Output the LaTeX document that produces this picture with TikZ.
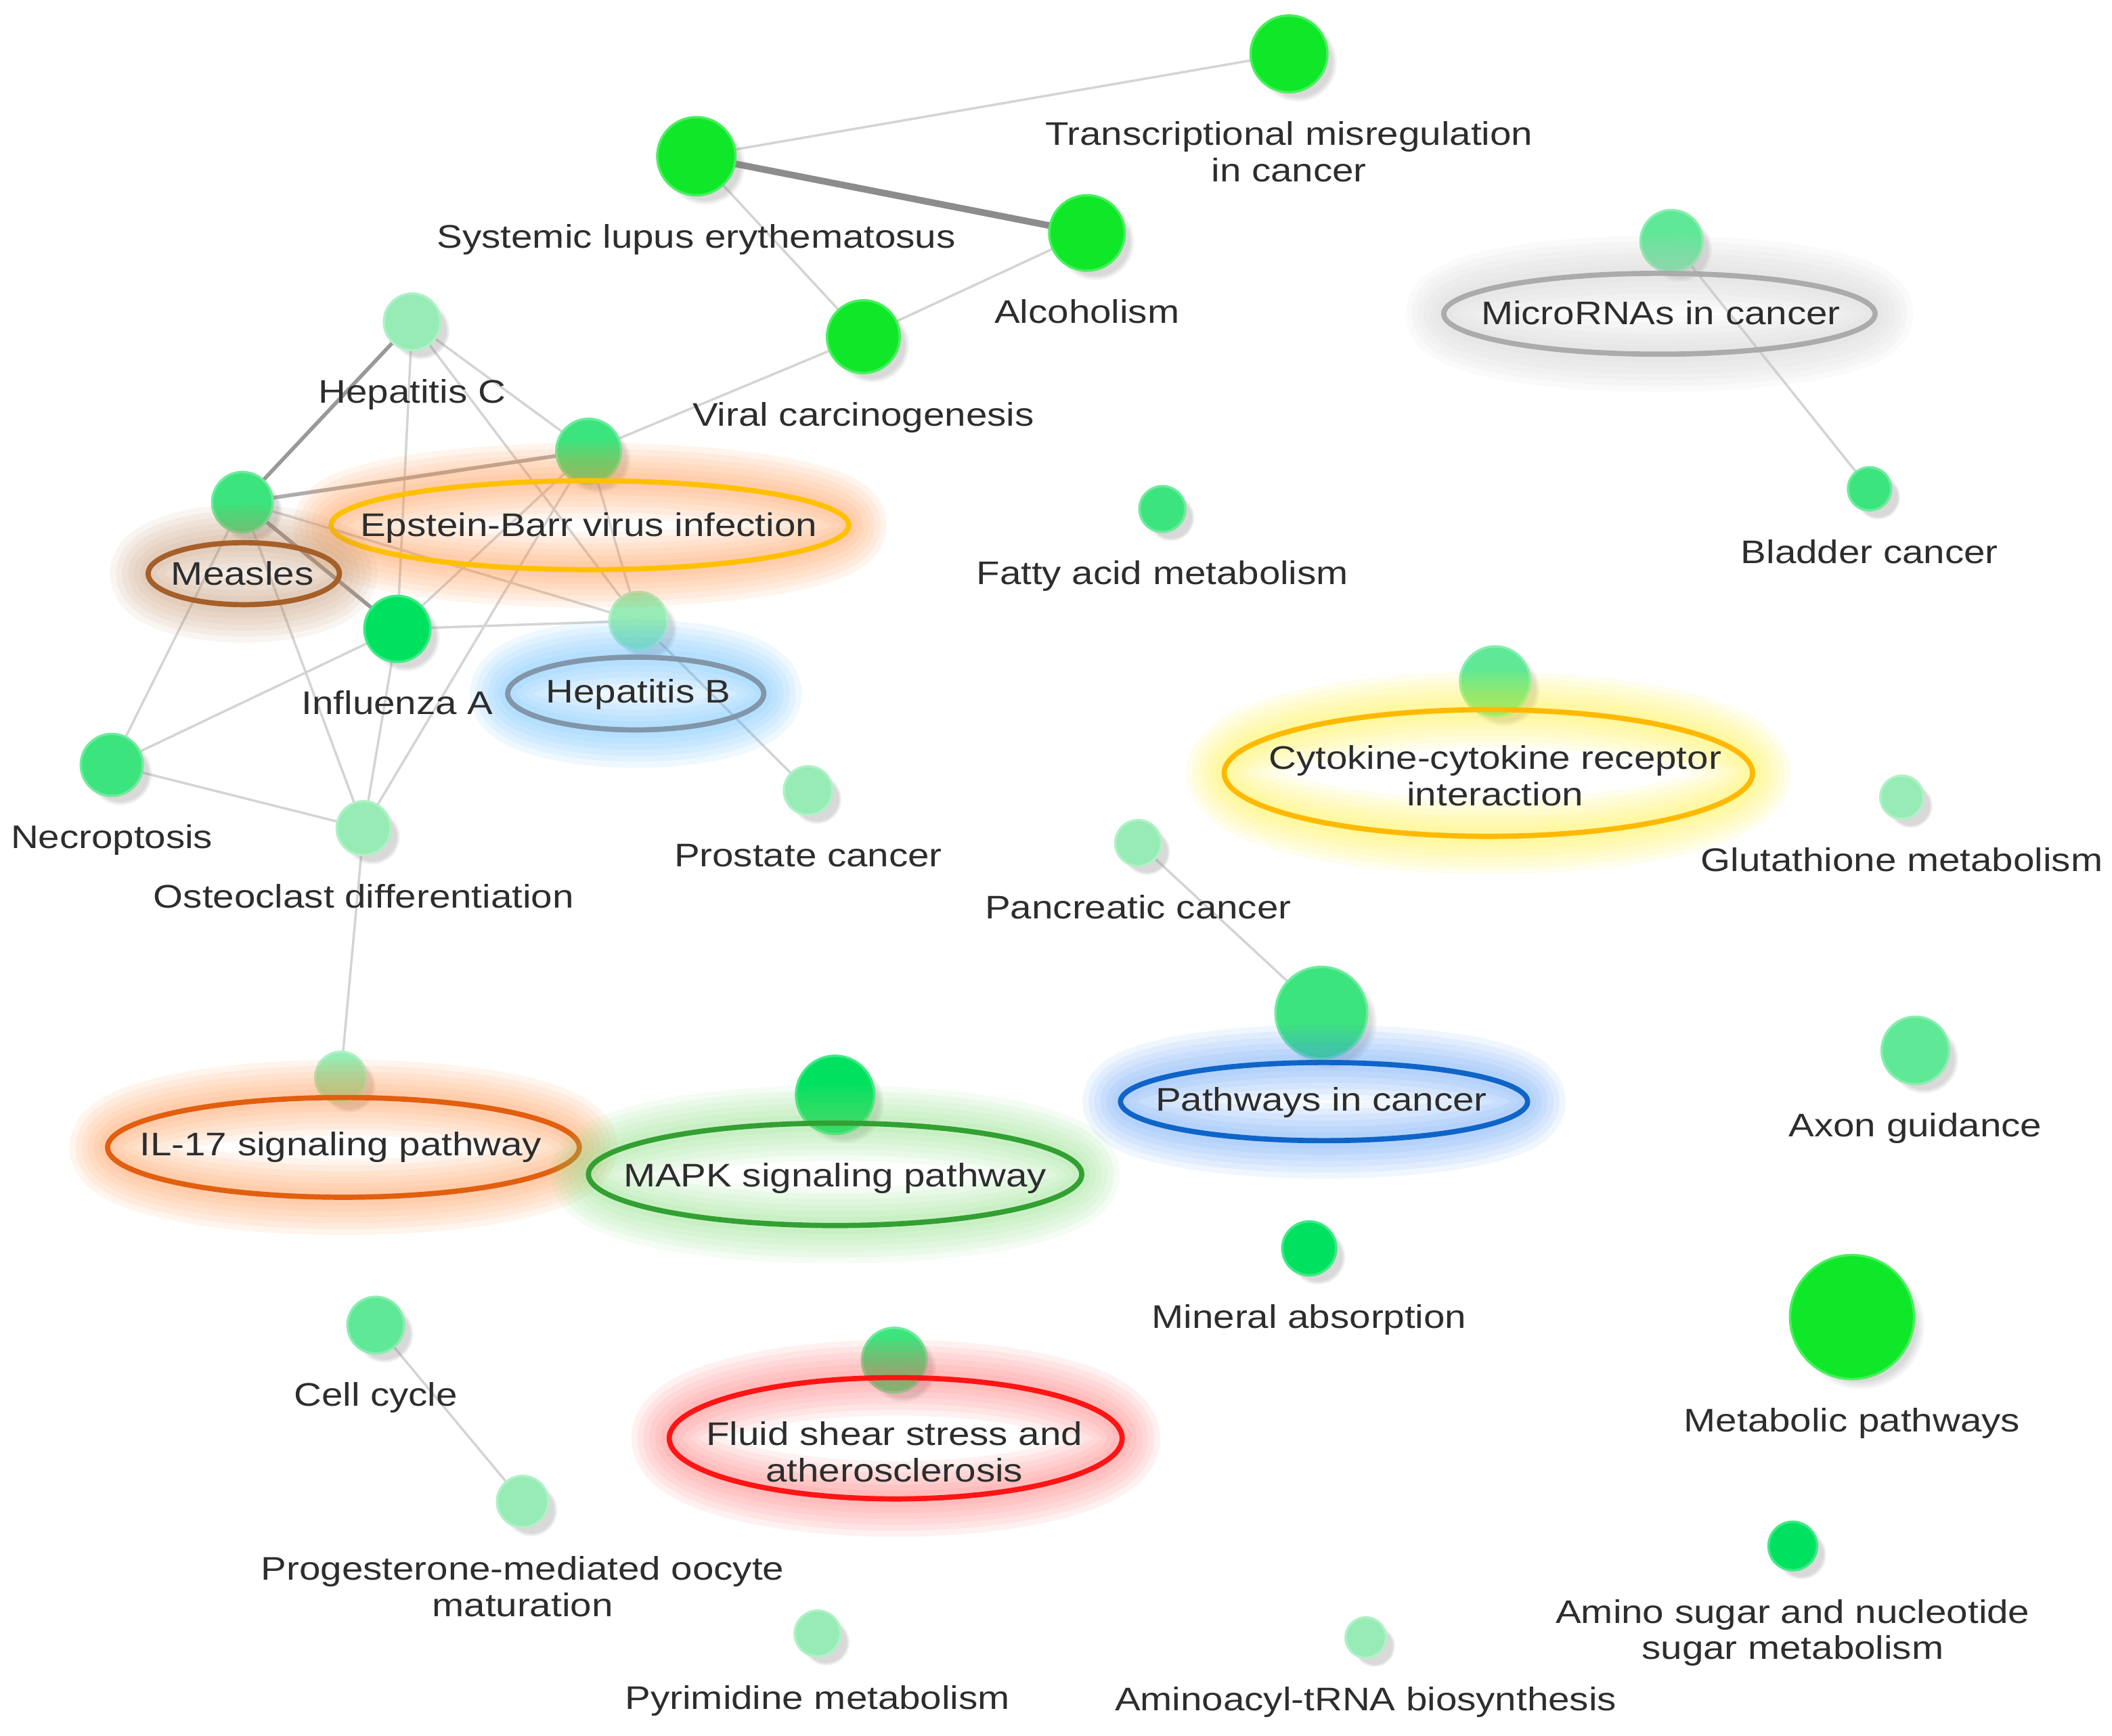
\documentclass[tikz,border=0pt]{standalone}
\usepackage{fontspec}
\setmainfont{Liberation Sans}[FakeStretch=1.17]
\usetikzlibrary{positioning,shapes.geometric,shadows,backgrounds}

\definecolor{gA}{RGB}{14,232,40}
\definecolor{gB}{RGB}{0,226,95}
\definecolor{gC}{RGB}{60,228,125}
\definecolor{gD}{RGB}{95,232,150}
\definecolor{gE}{RGB}{150,236,180}
\definecolor{txt}{RGB}{45,45,45}
\definecolor{rGold}{RGB}{255,192,0}
\definecolor{rBrown}{RGB}{165,95,40}
\definecolor{rSlate}{RGB}{130,150,170}
\definecolor{rYellow}{RGB}{255,185,0}
\definecolor{rOrange}{RGB}{225,95,15}
\definecolor{rGreen}{RGB}{50,160,50}
\definecolor{rBlue}{RGB}{15,100,200}
\definecolor{rRed}{RGB}{255,20,20}
\definecolor{hOrange}{RGB}{255,140,60}
\definecolor{hBrown}{RGB}{190,140,100}
\definecolor{hSky}{RGB}{80,180,255}
\definecolor{hYellow}{RGB}{255,238,40}
\definecolor{hGreen}{RGB}{130,220,120}
\definecolor{hBlue}{RGB}{80,150,245}
\definecolor{hRed}{RGB}{255,100,100}

\begin{document}
\begin{tikzpicture}[x=0.01cm,y=-0.01cm,
  dot/.style 2 args={circle,inner sep=0pt,minimum size=#2*0.02cm,fill=#1,draw=#1!75!white,line width=0.5pt,
    circular drop shadow={shadow xshift=0.06cm,shadow yshift=-0.06cm,shadow scale=1.04,opacity=0.3}},
  lab/.style={inner sep=0pt,align=center,text=txt,font=\fontsize{6.9}{7.7}\selectfont},
  halo/.style n args={4}{ellipse,inner sep=0pt,draw=#1,line width=1.1pt,
    minimum width=#3*0.02cm,minimum height=#4*0.02cm,
    preaction={draw=#2,draw opacity=0.09,line width=16pt},
    preaction={draw=#2,draw opacity=0.09,line width=13.5pt},
    preaction={draw=#2,draw opacity=0.09,line width=11pt},
    preaction={draw=#2,draw opacity=0.09,line width=8.5pt},
    preaction={draw=#2,draw opacity=0.09,line width=6pt},
    preaction={draw=#2,draw opacity=0.09,line width=3.5pt}},
  lnk/.style={draw=black!17,line width=0.5pt},
  lnkd/.style={draw=black!40,line width=0.8pt}]
  \useasboundingbox (0,0) rectangle (1568,1289);

  % pathways
  \node[dot={gA}{28.5}] (tmc) at (957,40) {};
  \node[dot={gA}{29}] (sle) at (517,116) {};
  \node[dot={gA}{28}] (alc) at (807,173) {};
  \node[dot={gA}{27}] (vir) at (641,250) {};
  \node[dot={gE}{21}] (hcv) at (306,239) {};
  \node[dot={gC}{24}] (ebv) at (437,335) {};
  \node[dot={gC}{22.5}] (mea) at (180,373) {};
  \node[dot={gB}{24.5}] (flu) at (295,467) {};
  \node[dot={gE}{21.5}] (hbv) at (474,461) {};
  \node[dot={gC}{23}] (nec) at (83,568) {};
  \node[dot={gE}{20}] (ost) at (270,615) {};
  \node[dot={gE}{18}] (pro) at (600,587) {};
  \node[dot={gE}{19}] (il17) at (253,800) {};
  \node[dot={gB}{29}] (mapk) at (620,813) {};
  \node[dot={gC}{34}] (pic) at (981,752) {};
  \node[dot={gE}{17}] (pan) at (845,626) {};
  \node[dot={gD}{26}] (cyt) at (1110,506) {};
  \node[dot={gE}{16}] (glu) at (1412,592) {};
  \node[dot={gC}{17}] (fat) at (863,378) {};
  \node[dot={gD}{23}] (mir) at (1241,179) {};
  \node[dot={gC}{16}] (bla) at (1388,363) {};
  \node[dot={gD}{25}] (axo) at (1422,780) {};
  \node[dot={gB}{20}] (min) at (972,927) {};
  \node[dot={gA}{46}] (met) at (1375,978) {};
  \node[dot={gD}{21}] (cc) at (279,984) {};
  \node[dot={gC}{24}] (fss) at (664,1010) {};
  \node[dot={gE}{19}] (prg) at (388,1115) {};
  \node[dot={gE}{17}] (pyr) at (607,1213) {};
  \node[dot={gE}{15}] (aat) at (1014,1216) {};
  \node[dot={gB}{18}] (ams) at (1331,1148) {};

  % links
  \begin{scope}[on background layer]
    \draw[lnk] (sle.center) -- (tmc.center);
    \draw[draw=black!45,line width=1.4pt] (sle.center) -- (alc.center);
    \draw[lnk] (sle.center) -- (vir.center);
    \draw[lnk] (alc.center) -- (vir.center);
    \draw[lnk] (vir.center) -- (ebv.center);
    \draw[lnkd] (hcv.center) -- (mea.center);
    \draw[lnk] (hcv.center) -- (flu.center);
    \draw[lnk] (hcv.center) -- (ebv.center);
    \draw[lnk] (hcv.center) -- (hbv.center);
    \draw[lnkd,draw=black!32] (mea.center) -- (ebv.center);
    \draw[lnkd] (mea.center) -- (flu.center);
    \draw[lnk] (mea.center) -- (hbv.center);
    \draw[lnk] (mea.center) -- (nec.center);
    \draw[lnk] (mea.center) -- (ost.center);
    \draw[lnk] (flu.center) -- (nec.center);
    \draw[lnk] (flu.center) -- (hbv.center);
    \draw[lnk] (flu.center) -- (ebv.center);
    \draw[lnk] (flu.center) -- (ost.center);
    \draw[lnk] (nec.center) -- (ost.center);
    \draw[lnk] (ebv.center) -- (ost.center);
    \draw[lnk] (ebv.center) -- (hbv.center);
    \draw[lnk] (hbv.center) -- (pro.center);
    \draw[lnk] (ost.center) -- (il17.center);
    \draw[lnk] (mir.center) -- (bla.center);
    \draw[lnk] (pan.center) -- (pic.center);
    \draw[lnk] (cc.center) -- (prg.center);
  \end{scope}

  % highlighted terms
  \node[halo={black!33}{black!22}{160}{30}] (mir-h) at (1232,233) {};
  \node[halo={rGold}{hOrange}{192}{33}] (ebv-h) at (438,390) {};
  \node[halo={rBrown}{hBrown}{71}{23}] (mea-h) at (181,426) {};
  \node[halo={rSlate}{hSky}{95}{27}] (hbv-h) at (472,515) {};
  \node[halo={rYellow}{hYellow}{196}{47}] (cyt-h) at (1105,574) {};
  \node[halo={rOrange}{hOrange}{175}{37}] (il17-h) at (255,852) {};
  \node[halo={rGreen}{hGreen}{183}{38}] (mapk-h) at (620,872) {};
  \node[halo={rBlue}{hBlue}{151}{29}] (pic-h) at (983,818) {};
  \node[halo={rRed}{hRed}{168}{45}] (fss-h) at (665,1068) {};

  % labels
  \node[lab,below=0.2cm of tmc] (tmc-l) {Transcriptional misregulation\\in cancer};
  \node[lab,below=0.2cm of sle] (sle-l) {Systemic lupus erythematosus};
  \node[lab,below=0.2cm of alc] (alc-l) {Alcoholism};
  \node[lab,below=0.2cm of vir] (vir-l) {Viral carcinogenesis};
  \node[lab,below=0.2cm of hcv] (hcv-l) {Hepatitis C};
  \node[lab,below=0.2cm of ebv] (ebv-l) {Epstein-Barr virus infection};
  \node[lab,below=0.2cm of mea] (mea-l) {Measles};
  \node[lab,below=0.2cm of flu] (flu-l) {Influenza A};
  \node[lab,below=0.2cm of hbv] (hbv-l) {Hepatitis B};
  \node[lab,below=0.2cm of nec] (nec-l) {Necroptosis};
  \node[lab,below=0.2cm of ost] (ost-l) {Osteoclast differentiation};
  \node[lab,below=0.2cm of pro] (pro-l) {Prostate cancer};
  \node[lab,below=0.2cm of il17] (il17-l) {IL-17 signaling pathway};
  \node[lab,below=0.2cm of mapk] (mapk-l) {MAPK signaling pathway};
  \node[lab,below=0.2cm of pic] (pic-l) {Pathways in cancer};
  \node[lab,below=0.2cm of pan] (pan-l) {Pancreatic cancer};
  \node[lab,below=0.2cm of cyt] (cyt-l) {Cytokine-cytokine receptor\\interaction};
  \node[lab,below=0.2cm of glu] (glu-l) {Glutathione metabolism};
  \node[lab,below=0.2cm of fat] (fat-l) {Fatty acid metabolism};
  \node[lab,below=0.2cm of mir,xshift=-0.08cm] (mir-l) {MicroRNAs in cancer};
  \node[lab,below=0.2cm of bla] (bla-l) {Bladder cancer};
  \node[lab,below=0.2cm of axo] (axo-l) {Axon guidance};
  \node[lab,below=0.2cm of min] (min-l) {Mineral absorption};
  \node[lab,below=0.2cm of met] (met-l) {Metabolic pathways};
  \node[lab,below=0.2cm of cc] (cc-l) {Cell cycle};
  \node[lab,below=0.2cm of fss] (fss-l) {Fluid shear stress and\\atherosclerosis};
  \node[lab,below=0.2cm of prg] (prg-l) {Progesterone-mediated oocyte\\maturation};
  \node[lab,below=0.2cm of pyr] (pyr-l) {Pyrimidine metabolism};
  \node[lab,below=0.2cm of aat] (aat-l) {Aminoacyl-tRNA biosynthesis};
  \node[lab,below=0.2cm of ams] (ams-l) {Amino sugar and nucleotide\\sugar metabolism};
\end{tikzpicture}
\end{document}
